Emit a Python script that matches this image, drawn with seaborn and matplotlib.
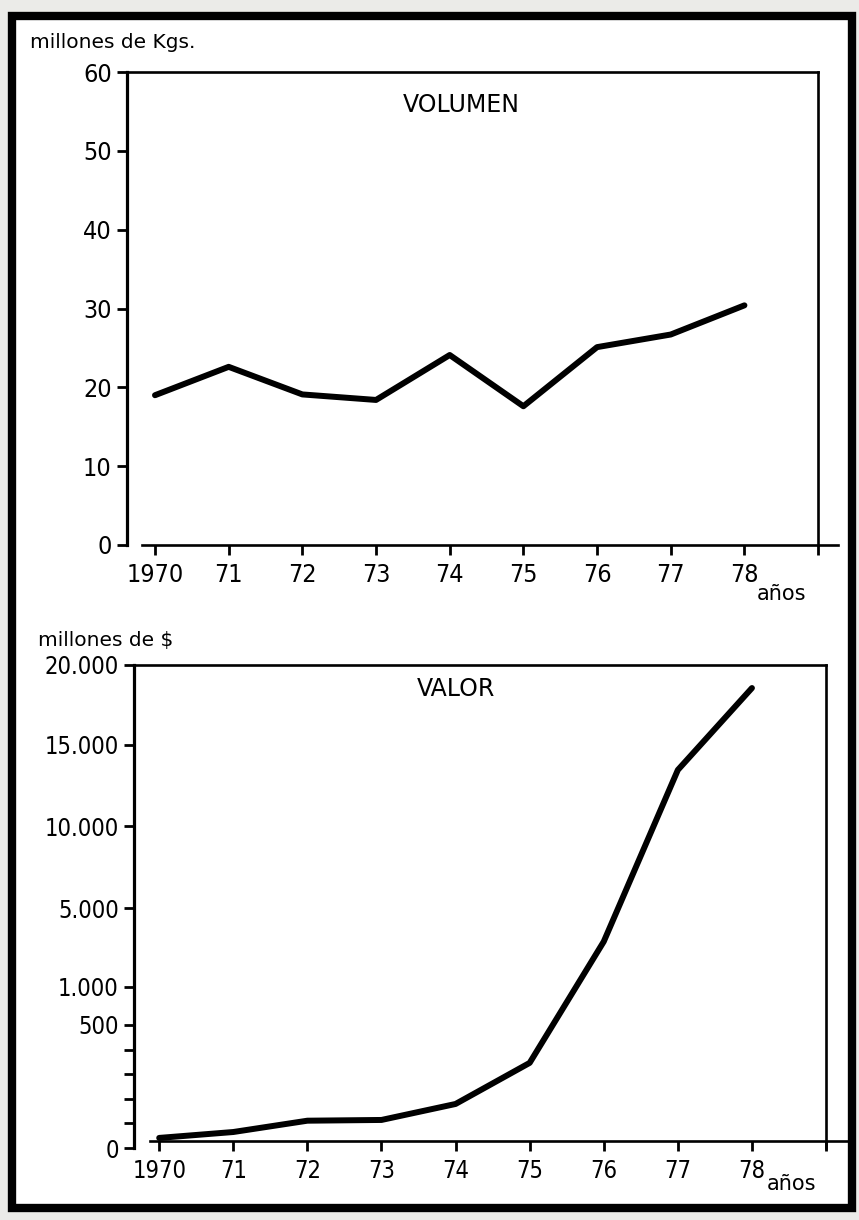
import numpy as np
import matplotlib
matplotlib.use("Agg")
import matplotlib.pyplot as plt
from matplotlib.patches import Rectangle
import seaborn as sns

YEARS = [1970, 1971, 1972, 1973, 1974, 1975, 1976, 1977, 1978]
VOLUMEN = [19.0, 22.6, 19.1, 18.4, 24.1, 17.6, 25.1, 26.7, 30.4]   # millones de Kgs.
VALOR = [41, 65, 111, 114, 179, 346, 3300, 13460, 18560]           # millones de $

X_TICKS = list(range(1970, 1980))
X_LABELS = ["1970", "71", "72", "73", "74", "75", "76", "77", "78", ""]

VOL_TICKS = [0, 10, 20, 30, 40, 50, 60]
VAL_TICKS = [0, 100, 200, 300, 400, 500, 1000, 5000, 10000, 15000, 20000]
VAL_LABELS = ["0", "", "", "", "", "500", "1.000", "5.000", "10.000", "15.000", "20.000"]

# the value axis of the original is broken: equal-ish steps between uneven values
VAL_ANCHORS = [0, 500, 1000, 5000, 10000, 15000, 20000]
VAL_STEPS = [0, 123, 161, 240, 322, 403, 483]

sns.set_theme(style="white")
plt.rcParams["font.family"] = ["DejaVu Sans"]
plt.rcParams["font.stretch"] = "condensed"
plt.rcParams["text.color"] = "black"


def val_forward(v):
    return np.interp(v, VAL_ANCHORS, VAL_STEPS)


def val_inverse(p):
    return np.interp(p, VAL_STEPS, VAL_ANCHORS)


def style_axes(ax, xlim, bottom_start, labelsize):
    ax.set_facecolor("none")
    ax.set_xlim(*xlim)
    for side in ["left", "right", "top", "bottom"]:
        ax.spines[side].set_color("black")
        ax.spines[side].set_linewidth(1.9)
    ax.spines["left"].set_linewidth(2.3)
    ax.spines["right"].set_position(("data", 1979))
    ax.spines["top"].set_bounds(xlim[0], 1979)
    ax.spines["bottom"].set_bounds(bottom_start, xlim[1])
    ax.set_xticks(X_TICKS, X_LABELS)
    ax.tick_params(axis="both", which="major", direction="out", length=7, width=2,
                   color="black", labelsize=labelsize, labelcolor="black")
    ax.tick_params(axis="x", bottom=True, top=False, pad=6)
    ax.tick_params(axis="y", left=True, right=False, pad=4)
    ax.set_xlabel("")
    ax.set_ylabel("")


fig = plt.figure(figsize=(8.59, 12.20), dpi=100)
fig.patch.set_facecolor("#ebebe8")
fig.add_artist(Rectangle((12 / 859, 1 - 1208 / 1220), 840 / 859, 1192 / 1220,
                         transform=fig.transFigure, facecolor="white",
                         edgecolor="black", linewidth=6, zorder=-1))

# --- VOLUMEN ---
ax1 = fig.add_axes([127 / 859, (1220 - 545) / 1220, 711 / 859, 473 / 1220])
sns.lineplot(x=YEARS, y=VOLUMEN, ax=ax1, color="black", linewidth=4.3)
ax1.set_ylim(0, 60)
ax1.set_yticks(VOL_TICKS, [str(t) for t in VOL_TICKS])
style_axes(ax1, (1969.62, 1979.27), 1969.82, 18)
ax1.text(0.47, 0.93, "VOLUMEN", transform=ax1.transAxes, ha="center", va="center",
         fontsize=17, fontstretch="normal")

fig.text(30 / 859, 1 - 48 / 1220, "millones de Kgs.", fontsize=14.5, ha="left", va="baseline",
         fontstretch="normal")
fig.text(757 / 859, 1 - 600 / 1220, "años", fontsize=15, ha="left", va="baseline",
         fontstretch="normal")

# --- VALOR ---
ax2 = fig.add_axes([134 / 859, (1220 - 1148) / 1220, 715 / 859, 483 / 1220])
sns.lineplot(x=YEARS, y=VALOR, ax=ax2, color="black", linewidth=4.3)
ax2.set_yscale("function", functions=(val_forward, val_inverse))
ax2.set_ylim(0, 20000)
ax2.set_yticks(VAL_TICKS, VAL_LABELS)
ax2.yaxis.set_minor_locator(matplotlib.ticker.NullLocator())
style_axes(ax2, (1969.66, 1979.31), 1969.87, 17)
ax2.spines["bottom"].set_position(("data", 28))
ax2.text(0.45, 0.95, "VALOR", transform=ax2.transAxes, ha="center", va="center",
         fontsize=17, fontstretch="normal")

fig.text(38 / 859, 1 - 646 / 1220, "millones de $", fontsize=14.5, ha="left", va="baseline",
         fontstretch="normal")
fig.text(767 / 859, 1 - 1190 / 1220, "años", fontsize=15, ha="left", va="baseline",
         fontstretch="normal")

fig.savefig("out.png", dpi=100, facecolor=fig.get_facecolor())
plt.close(fig)
